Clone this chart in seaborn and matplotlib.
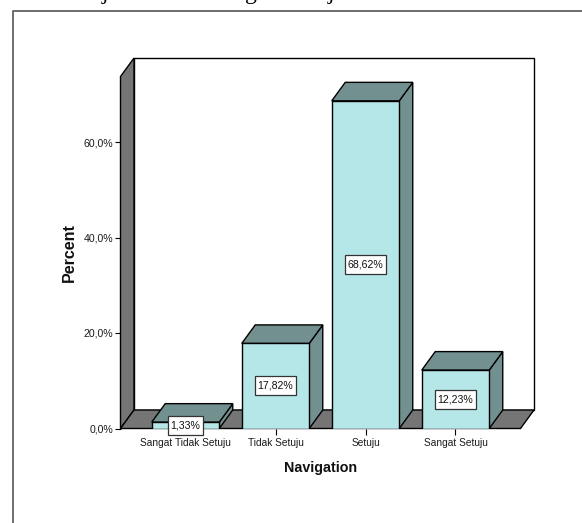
import matplotlib
matplotlib.use("Agg")
import matplotlib.pyplot as plt
import seaborn as sns
from matplotlib.lines import Line2D
from matplotlib.patches import Polygon, Rectangle
from matplotlib.transforms import IdentityTransform

categories = ["Sangat Tidak Setuju", "Tidak Setuju", "Setuju", "Sangat Setuju"]
percent = [1.33, 17.82, 68.62, 12.23]
y_ticks = [0, 20, 40, 60]

FRONT = "#B5E6E8"
SHADE = "#729090"
WALL = "#757575"
INK = "#000000"

W, H = 582, 523
sns.set_theme(style="white")
plt.rcParams["font.family"] = ["Liberation Sans", "DejaVu Sans"]

fig = plt.figure(figsize=(W / 100, H / 100), dpi=100, facecolor="white")

# Plot area in pixels: front plane of the 3-D box
left, right, base, top = 120.5, 520.5, 428.5, 76.5
ax = fig.add_axes([left / W, 1 - base / H, (right - left) / W, (base - top) / H])
ax.patch.set_visible(False)
sns.despine(ax=ax, left=True, bottom=True, top=True, right=True)

sns.barplot(x=categories, y=percent, color=FRONT, saturation=1, width=0.75,
            edgecolor=INK, linewidth=1.0, ax=ax, zorder=5)

px_per_cat = 90.0
px_per_pct = 4.775
ax.set_xlim(-65 / px_per_cat, 3 + 65 / px_per_cat)
ax.set_ylim(0, (base - top) / px_per_pct)

# Depth offset of the extruded faces, in data units
dx = 13.5 / px_per_cat
dy = 18.5 / px_per_pct
x0, x1 = ax.get_xlim()
y0, y1 = ax.get_ylim()


def face(points, color, z):
    ax.add_patch(Polygon(points, closed=True, facecolor=color, edgecolor=INK,
                         linewidth=1.0, zorder=z, clip_on=False))


# Back wall, left wall and floor
face([(x0 + dx, y0 + dy), (x1 + dx, y0 + dy), (x1 + dx, y1 + dy), (x0 + dx, y1 + dy)], "white", 1)
face([(x0, y0), (x0 + dx, y0 + dy), (x0 + dx, y1 + dy), (x0, y1)], WALL, 2)
face([(x0, y0), (x1, y0), (x1 + dx, y0 + dy), (x0 + dx, y0 + dy)], WALL, 2)

# Side and top faces of every bar
for bar in list(ax.patches):
    if bar.get_zorder() != 5:
        continue
    a, b, h = bar.get_x(), bar.get_x() + bar.get_width(), bar.get_height()
    face([(b, 0), (b + dx, dy), (b + dx, h + dy), (b, h)], SHADE, 4)
    face([(a, h), (b, h), (b + dx, h + dy), (a + dx, h + dy)], SHADE, 4)

ax.set_yticks(y_ticks)
ax.set_yticklabels([f"{t:.1f}".replace(".", ",") + "%" for t in y_ticks])
ax.tick_params(axis="y", left=True, length=4.4, width=0.8, color=INK, pad=1, labelsize=7.6, labelcolor="#1a1a1a")
ax.tick_params(axis="x", bottom=True, length=4.4, width=0.8, color=INK, pad=2.5, labelsize=7.25, labelcolor="#1a1a1a")

ax.set_xlabel("")
ax.set_ylabel("")

# Value labels in boxes at mid-height of each bar; each box hugs its text
renderer = fig.canvas.get_renderer()
for i, v in enumerate(percent):
    label = ax.text(i, v / 2, f"{v:.2f}".replace(".", ",") + "%", ha="center", va="center",
                    fontsize=7.6, color="#111111", zorder=8, clip_on=False)
    cx, cy = ax.transData.transform((i, v / 2))
    box_w = label.get_window_extent(renderer).width + 5
    box_h = 19
    ax.add_patch(Rectangle((cx - box_w / 2, cy - box_h / 2), box_w, box_h,
                           transform=IdentityTransform(), facecolor="white",
                           edgecolor="#333333", linewidth=0.9, zorder=7, clip_on=False))

fig.text(320.5 / W, 1 - 468 / H, "Navigation", fontsize=10.3, fontweight="bold",
         ha="center", va="center", color="#111111")
fig.text(69 / W, 1 - 253 / H, "Percent", fontsize=11.5, fontweight="bold", rotation=90,
         ha="center", va="center", color="#111111")

# Outer frame of the chart object, running off the right and bottom
fig.add_artist(Line2D([12.5 / W, 12.5 / W, 1], [0, 1 - 10.5 / H, 1 - 10.5 / H],
                      transform=fig.transFigure, color="#555555", linewidth=1.2))

# Descenders of the line of body text above the chart
for x_px, ch in [(105, "j"), (251, "g"), (331, "j")]:
    fig.text(x_px / W, 1 + 1 / H, ch, family="Liberation Serif", fontsize=17,
             ha="center", va="baseline", color="black")

fig.savefig("out.png", dpi=100, facecolor="white")
